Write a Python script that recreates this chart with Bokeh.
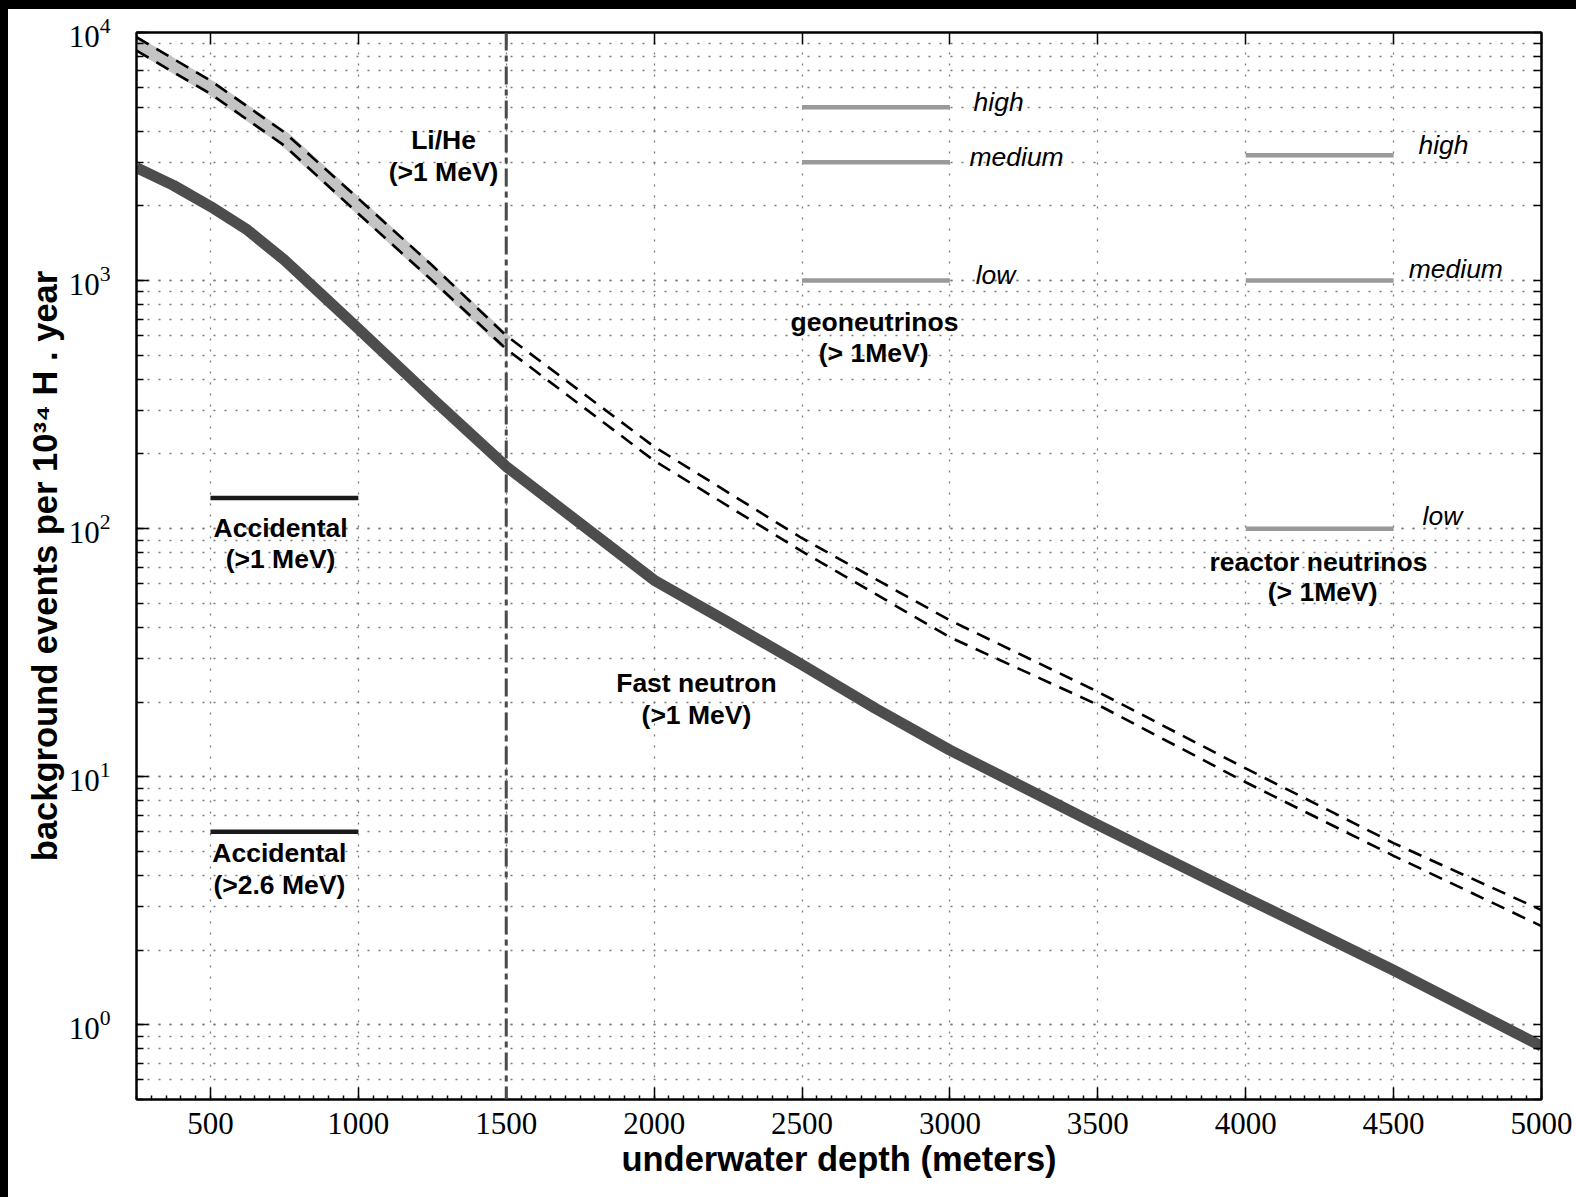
from bokeh.plotting import figure
from bokeh.models import (Range1d, LogTicker, SingleIntervalTicker, FixedTicker,
                          LinearAxis, LogAxis, Span, Div)
from bokeh.layouts import column, row
from bokeh.core.properties import value
from bokeh.embed import file_html
from bokeh.resources import INLINE

# ---------------- data ----------------
depth_fast = [250, 375, 500, 625, 750, 875, 1000, 1250, 1500, 1750, 2000, 2250,
              2500, 2750, 3000, 3500, 4000, 4500, 5000]
fast_neutron = [2850, 2420, 1990, 1600, 1210, 880, 640, 335, 178, 105, 62,
                42, 28.3, 18.8, 12.8, 6.4, 3.25, 1.66, 0.82]

depth_lihe = [250, 500, 750, 1000, 1250, 1500, 2000, 2500, 3000, 3500, 4000,
              4500, 5000]
lihe_upper = [9570, 6400, 3960, 2140, 1150, 600, 214, 91.5, 42.7, 22.0, 10.8,
              5.4, 2.9]
lihe_lower = [8450, 5660, 3500, 1860, 1000, 530, 188, 81, 36.5, 19.5, 9.5,
              4.8, 2.5]
depth_lihe_band = [250, 500, 750, 1000, 1250, 1500]
lihe_central = [9000, 6000, 3730, 2000, 1070, 563]

acc_depth = [500, 1000]
acc_levels = [133, 6]               # >1 MeV, >2.6 MeV

geo_depth = [2500, 3000]
geo_levels = [5000, 3000, 1000]     # high, medium, low
reactor_depth = [4000, 4500]
reactor_levels = [3200, 1000, 100]  # high, medium, low
level_names = ["high", "medium", "low"]

lihe_cut_depth = 1500

x_tick_values = [500, 1000, 1500, 2000, 2500, 3000, 3500, 4000, 4500, 5000]
y_tick_decades = [0.1, 1, 10, 100, 1000, 10000]
y_tick_mantissas = [1, 2, 3, 4, 5, 6, 7, 8, 9]

# ---------------- figure ----------------
p = figure(width=1568, height=1188, x_range=Range1d(250, 5000),
           y_range=Range1d(0.5, 1e4), y_axis_type="log",
           output_backend="svg", toolbar_location=None,
           min_border_left=128, min_border_right=35,
           min_border_top=23, min_border_bottom=98)
p.frame_width = 1405
p.frame_height = 1067
p.background_fill_color = "white"
p.border_fill_color = "white"
p.outline_line_color = "black"
p.outline_line_width = 2

xt = SingleIntervalTicker(interval=500, num_minor_ticks=10)
yt = LogTicker(mantissas=[1], num_minor_ticks=10)

p.xaxis.ticker = xt
p.yaxis.ticker = yt

for ax in (p.xaxis[0], p.yaxis[0]):
    ax.axis_line_width = 2
    ax.axis_line_color = "black"
    ax.major_tick_in = 12
    ax.major_tick_out = 0
    ax.minor_tick_out = 0
    ax.major_tick_line_width = 1.5
    ax.minor_tick_line_width = 1.5
    ax.major_label_text_font = "Liberation Serif"
    ax.major_label_text_font_size = "31px"
    ax.major_label_text_color = "black"
    ax.axis_label_text_font = "Liberation Sans"
    ax.axis_label_text_font_style = "bold"
    ax.axis_label_text_font_size = "34.5px"
    ax.axis_label_text_color = "black"

p.xaxis.minor_tick_in = 4
p.yaxis.minor_tick_in = 7
p.xaxis.major_label_standoff = 13
p.yaxis.major_label_standoff = 26
p.xaxis.axis_label_standoff = 3
p.yaxis.axis_label_standoff = 2
p.xaxis.axis_label = "underwater depth (meters)"
p.yaxis.axis_label = "background events per 10\u00b3\u2074 H . year"

# mirrored tick marks on top and right (no labels)
top_ax = LinearAxis(ticker=FixedTicker(ticks=[], minor_ticks=x_tick_values),
                    axis_line_width=2, minor_tick_in=12, minor_tick_out=0,
                    minor_tick_line_width=1.5, major_label_standoff=0)
right_ax = LogAxis(ticker=FixedTicker(ticks=[], minor_ticks=[
                       m * d for d in y_tick_decades for m in y_tick_mantissas]),
                   axis_line_width=2, minor_tick_in=8, minor_tick_out=0,
                   minor_tick_line_width=1.5, major_label_standoff=0)
p.add_layout(top_ax, "above")
p.add_layout(right_ax, "right")

for g in (p.xgrid[0], p.ygrid[0]):
    g.grid_line_color = "#7a7a7a"
    g.grid_line_dash = "2 9"
    g.grid_line_width = 1.3
p.ygrid.minor_grid_line_color = "#7a7a7a"
p.ygrid.minor_grid_line_dash = "2 9"
p.ygrid.minor_grid_line_width = 1.3

# ---------------- glyphs ----------------
p.line(depth_lihe_band, lihe_central, line_color="#c4c4c4", line_width=14)
p.line(depth_lihe, lihe_upper, line_color="black", line_width=2.6,
       line_dash="14 9")
p.line(depth_lihe, lihe_lower, line_color="black", line_width=2.6,
       line_dash="14 9")
p.line(depth_fast, fast_neutron, line_color="#4d4d4d", line_width=11,
       line_join="round")

p.add_layout(Span(location=lihe_cut_depth, dimension="height",
                  line_color="#4a4a4a", line_width=3, line_dash="18 5 6 5"))

p.multi_line([acc_depth] * len(acc_levels),
             [[v, v] for v in acc_levels], line_color="#1a1a1a", line_width=4.5)
p.multi_line([geo_depth] * len(geo_levels),
             [[v, v] for v in geo_levels], line_color="#999999", line_width=4.5)
p.multi_line([reactor_depth] * len(reactor_levels),
             [[v, v] for v in reactor_levels], line_color="#999999",
             line_width=4.5)

# ---------------- annotations ----------------
bold_x = [1288, 1288, 737, 737, 733, 733, 2745, 2742, 2143, 2143, 4246, 4260]
bold_y = [3672, 2730, 101, 75.8, 4.91, 3.65, 679, 509, 23.8, 17.7, 73.1, 55.3]
bold_t = ["Li/He", "(>1 MeV)", "Accidental", "(>1 MeV)", "Accidental",
          "(>2.6 MeV)", "geoneutrinos", "(> 1MeV)", "Fast neutron",
          "(>1 MeV)", "reactor neutrinos", "(> 1MeV)"]
p.text(bold_x, bold_y, text=bold_t, text_font=value("Liberation Sans"),
       text_font_style="bold", text_font_size="26.5px", text_align="center",
       text_baseline="middle", text_color="black")

ital_x = [3080, 3066, 3087, 4584, 4551, 4598]
ital_y = [5230, 3140, 1050, 3510, 1110, 112]
ital_t = level_names + level_names
p.text(ital_x, ital_y, text=ital_t, text_font=value("Liberation Sans"),
       text_font_style="italic", text_font_size="26.5px", text_align="left",
       text_baseline="middle", text_color="black")

# ---------------- page ----------------
top_bar = Div(text="", width=1576, height=9, margin=0,
              styles={"background-color": "black"})
left_bar = Div(text="", width=8, height=1188, margin=0,
               styles={"background-color": "black"})
layout = column(top_bar, row(left_bar, p, spacing=0), spacing=0)

open("out.html", "w").write(file_html(layout, INLINE))
